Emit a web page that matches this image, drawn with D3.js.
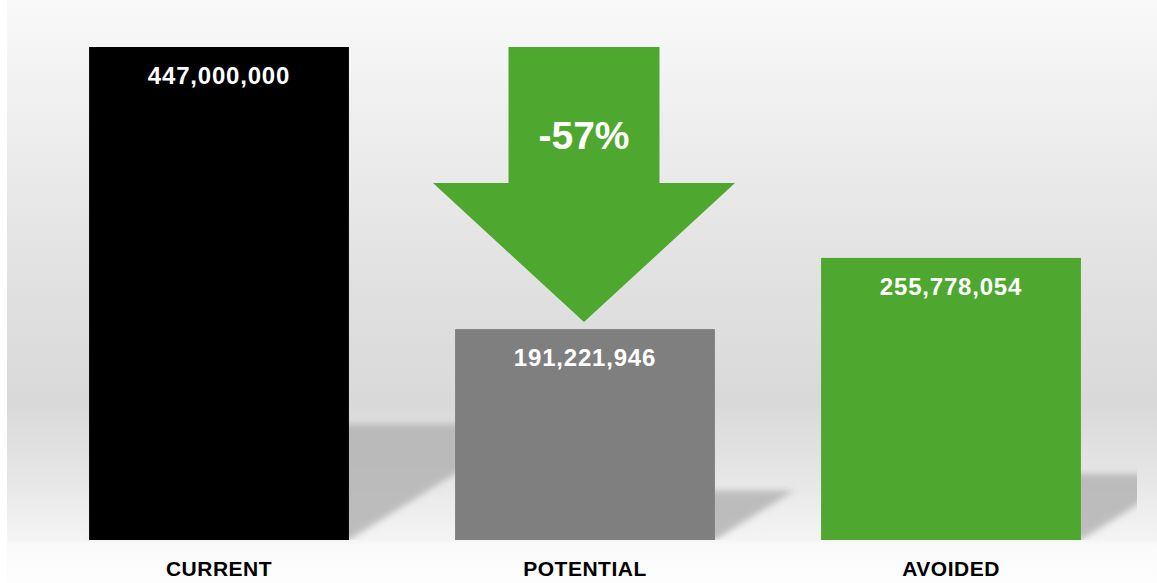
<!DOCTYPE html>
<html>
<head>
<meta charset="utf-8">
<script src="https://cdn.jsdelivr.net/npm/d3@7"></script>
<style>
  html, body { margin: 0; padding: 0; background: #ffffff; }
  svg { display: block; }
  text { font-family: "Liberation Sans", Arial, sans-serif; font-weight: bold; }
</style>
</head>
<body>
<svg id="chart" width="1157" height="583"></svg>
<script>
// Data
const categories = ["CURRENT", "POTENTIAL", "AVOIDED"];
const values = [447000000, 191221946, 255778054];
const barColors = ["#000000", "#7f7f7f", "#4ea72e"];
const changeLabel = "-57%";

const W = 1157, H = 583;
const baseY = 540, topY = 47;

const svg = d3.select("#chart");
const defs = svg.append("defs");

// Background gradient of the plot area
const bg = defs.append("linearGradient")
  .attr("id", "bgGrad").attr("x1", 0).attr("y1", 0).attr("x2", 0).attr("y2", 1);
[[0, "#f9f9f9"], [0.25, "#ececec"], [0.5, "#e0e0e0"], [0.69, "#d9d9d9"],
 [0.82, "#e6e6e6"], [0.925, "#f4f4f4"], [0.935, "#fafafa"], [1, "#fdfdfd"]]
  .forEach(([o, c]) => bg.append("stop").attr("offset", o).attr("stop-color", c));

const blur = defs.append("filter").attr("id", "soft")
  .attr("x", "-20%").attr("y", "-20%").attr("width", "140%").attr("height", "140%");
blur.append("feGaussianBlur").attr("stdDeviation", 3);

defs.append("clipPath").attr("id", "plotClip")
  .append("rect").attr("x", 7).attr("y", 0).attr("width", 1130).attr("height", baseY);

svg.append("rect").attr("x", 7).attr("y", 0).attr("width", W - 7).attr("height", H)
  .attr("fill", "url(#bgGrad)");

// Scales
const x = d3.scaleBand().domain(categories).range([36, 1134])
  .paddingInner(0.29).paddingOuter(0.145);
const y = d3.scaleLinear().domain([0, values[0]]).range([baseY, topY]);

const rows = categories.map((c, i) => ({ cat: c, value: values[i], color: barColors[i] }));

// Perspective shadows cast behind the bars
const shadowK = 0.235, shadowSkew = 1.6;
svg.append("g").attr("clip-path", "url(#plotClip)")
  .selectAll("polygon").data(rows).join("polygon")
  .attr("points", d => {
    const x0 = x(d.cat), x1 = x0 + x.bandwidth();
    const h = (baseY - y(d.value)) * shadowK;
    const dx = h * shadowSkew;
    return [[x0, baseY], [x0 + dx, baseY - h], [x1 + dx, baseY - h], [x1, baseY]]
      .map(p => p.join(",")).join(" ");
  })
  .attr("fill", "#b2b2b2")
  .attr("opacity", 0.82)
  .attr("filter", "url(#soft)");

// Bars
svg.append("g").selectAll("rect").data(rows).join("rect")
  .attr("x", d => x(d.cat))
  .attr("y", d => y(d.value))
  .attr("width", x.bandwidth())
  .attr("height", d => baseY - y(d.value))
  .attr("fill", d => d.color);

// Value labels
const fmt = d3.format(",");
svg.append("g").selectAll("text").data(rows).join("text")
  .attr("x", d => x(d.cat) + x.bandwidth() / 2)
  .attr("y", d => y(d.value) + 37)
  .attr("text-anchor", "middle")
  .attr("fill", "#ffffff")
  .attr("font-size", 24)
  .attr("letter-spacing", 0.8)
  .text(d => fmt(d.value));

// Category labels
svg.append("g").selectAll("text").data(rows).join("text")
  .attr("x", d => x(d.cat) + x.bandwidth() / 2)
  .attr("y", 576)
  .attr("text-anchor", "middle")
  .attr("fill", "#000000")
  .attr("font-size", 21)
  .attr("letter-spacing", 0.5)
  .text(d => d.cat);

// Down arrow from current level to potential level
const cx = x(categories[1]) + x.bandwidth() / 2 - 1;
const aTop = y(values[0]);
const aTip = y(values[1]) - 7;
const headY = 183;
const shaftHalf = 75.5, headHalf = 151;
const arrowPath = d3.path();
arrowPath.moveTo(cx - shaftHalf, aTop);
arrowPath.lineTo(cx + shaftHalf, aTop);
arrowPath.lineTo(cx + shaftHalf, headY);
arrowPath.lineTo(cx + headHalf, headY);
arrowPath.lineTo(cx, aTip);
arrowPath.lineTo(cx - headHalf, headY);
arrowPath.lineTo(cx - shaftHalf, headY);
arrowPath.closePath();
svg.append("path").attr("d", arrowPath.toString()).attr("fill", barColors[2]);

svg.append("text")
  .attr("x", cx)
  .attr("y", 149)
  .attr("text-anchor", "middle")
  .attr("fill", "#ffffff")
  .attr("font-size", 39)
  .text(changeLabel);
</script>
</body>
</html>
